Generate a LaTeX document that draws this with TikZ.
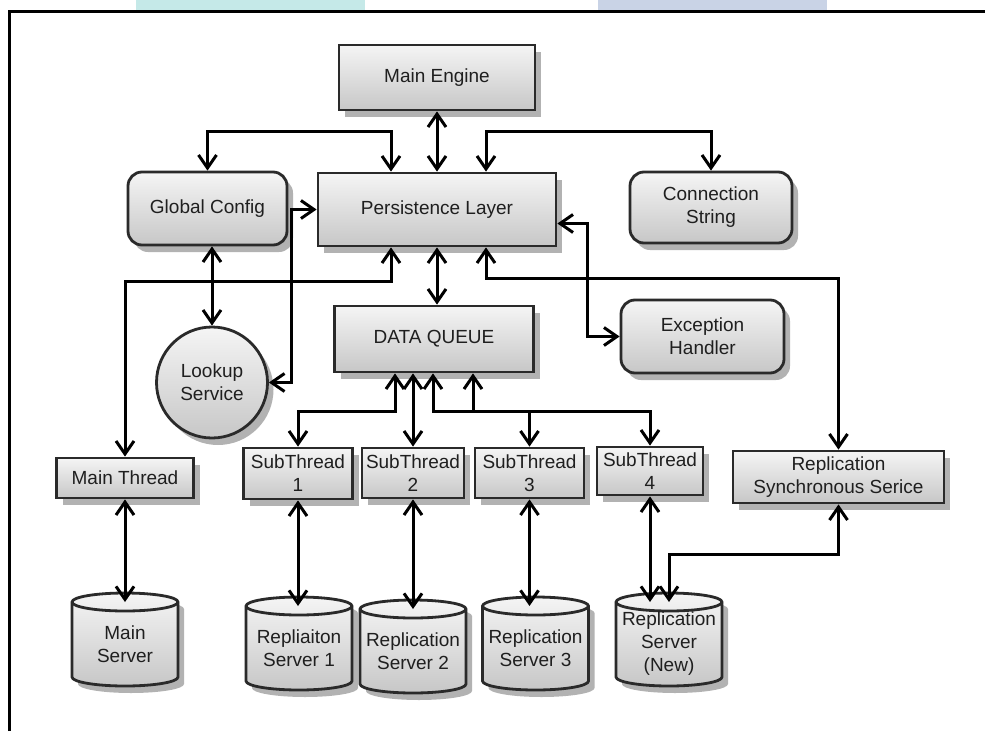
\documentclass[tikz,border=0pt]{standalone}
\usepackage{fontspec}
\setmainfont{Liberation Sans}
\usetikzlibrary{arrows.meta,shadows,calc}
\definecolor{tealbar}{HTML}{C5E9E8}
\definecolor{bluebar}{HTML}{C9D3E6}
\definecolor{edge}{HTML}{2A2A2A}

\tikzset{
  x=1pt, y=-1pt,
  every node/.style={font=\fontsize{19}{23}\selectfont, text=black!88},
  boxbase/.style={draw=edge, line width=2.8pt, top color=black!4, bottom color=black!22,
    drop shadow={shadow xshift=6pt, shadow yshift=-7pt, fill=black, opacity=0.3},
    inner sep=0pt, align=center},
  sqbox/.style={boxbase, rectangle},
  rbox/.style={boxbase, rectangle, rounded corners=14pt},
  link/.style={line width=3pt, black,
    {Straight Barb[length=13pt,width=18pt]}-{Straight Barb[length=13pt,width=18pt]}},
}

% database cylinder: name, centre x, top y, label
\newcommand\dbcyl[4]{%
  \path[fill=black, opacity=0.3]
    ({#2-53+6},{#3+9+7}) -- ({#2-53+6},{#3+84+7})
    arc[start angle=180,end angle=360,x radius=53pt,y radius=9pt]
    -- ({#2+53+6},{#3+9+7})
    arc[start angle=0,end angle=180,x radius=53pt,y radius=9pt] -- cycle;
  \path[draw=edge, line width=2.8pt, top color=black!4, bottom color=black!22]
    ({#2-53},{#3+9}) -- ({#2-53},{#3+84})
    arc[start angle=180,end angle=360,x radius=53pt,y radius=9pt]
    -- ({#2+53},{#3+9})
    arc[start angle=0,end angle=180,x radius=53pt,y radius=9pt] -- cycle;
  \draw[edge, line width=2.8pt] ({#2-53},{#3+9})
    arc[start angle=180,end angle=360,x radius=53pt,y radius=9pt];
  \coordinate (#1-top) at (#2,{#3+9});
  \node[inner sep=0pt, align=center] (#1) at (#2,{#3+51}) {#4};
}

\begin{document}
\begin{tikzpicture}
\useasboundingbox (0,0) rectangle (985,731);
\fill[white] (0,0) rectangle (985,731);

% header tabs and frame
\fill[tealbar] (136,0) rectangle (365,10);
\fill[bluebar] (598,0) rectangle (827,10);
\draw[line width=3pt, black] (9.5,731) -- (9.5,11) -- (985,11);

% top row
\node[sqbox, minimum width=196pt, minimum height=65pt] (me) at (437,77.5) {Main Engine};
\node[sqbox, minimum width=238pt, minimum height=73pt] (pl) at (437,209.5) {Persistence Layer};
\node[rbox, minimum width=159pt, minimum height=73pt] (gc) at (207.5,208.5) {Global Config};
\node[rbox, minimum width=162pt, minimum height=71pt] (cs) at (711,207.5) {Connection\\String};

% middle row
\node[sqbox, minimum width=199pt, minimum height=66pt] (dq) at (434,339) {DATA QUEUE};
\node[rbox, minimum width=163pt, minimum height=73pt] (eh) at (702.5,336.5) {Exception\\Handler};
\node[boxbase, circle, minimum size=111pt] (ls) at (212,382.5) {Lookup\\Service};

% threads
\node[sqbox, minimum width=137pt, minimum height=40pt] (mt) at (125,478) {Main Thread};
\node[sqbox, minimum width=109pt, minimum height=51pt] (sub1) at (298,473.5) {SubThread\\1};
\node[sqbox, minimum width=102pt, minimum height=50pt] (sub2) at (413,473) {SubThread\\2};
\node[sqbox, minimum width=109pt, minimum height=50pt] (sub3) at (529.5,473) {SubThread\\3};
\node[sqbox, minimum width=106pt, minimum height=48pt] (sub4) at (650,471) {SubThread\\4};
\node[sqbox, minimum width=211pt, minimum height=52pt] (rss) at (838.5,477) {Replication\\Synchronous Serice};

% servers
\dbcyl{ms}{125}{593}{Main\\Server}
\dbcyl{rs1}{299}{597}{Repliaiton\\Server 1}
\dbcyl{rs2}{413}{600}{Replication\\Server 2}
\dbcyl{rs3}{535.5}{597}{Replication\\Server 3}
\dbcyl{rsn}{669}{593}{Replication\\Server\\(New)}

% connectors around the persistence layer
\draw[link] (me.south) -- (pl.north);
\draw[link] (gc.north) |- ([xshift=-46pt,yshift=40pt]pl.north) -- ([xshift=-46pt]pl.north);
\draw[link] ([xshift=49pt]pl.north) -- ([xshift=49pt,yshift=40pt]pl.north) -| (cs.north);
\draw[link] (ls.east) -| ([xshift=-25pt]pl.west) -- (pl.west);
\draw[link] (ls.north |- gc.south) -- (ls.north);
\draw[link] ([xshift=-46pt]pl.south) -- ([xshift=-46pt,yshift=-34pt]pl.south) -| (mt.north);
\draw[link] (pl.south) -- (dq.north -| pl.south);
\draw[link] ([xshift=49pt]pl.south) -- ([xshift=49pt,yshift=-31pt]pl.south) -| (rss.north);
\draw[link] ([yshift=-14pt]pl.east) -- ([xshift=30pt,yshift=-14pt]pl.east) |- (eh.west);

% data queue to the sub threads
\draw[link] ([xshift=-39pt]dq.south) -- ([xshift=-39pt,yshift=-38pt]dq.south) -| (sub1.north);
\draw[link] (sub2.north |- dq.south) -- (sub2.north);
\draw[link] ([xshift=-1pt]dq.south) -- ([xshift=-1pt,yshift=-38pt]dq.south) -| (sub4.north);
\draw[link] ([xshift=39pt]dq.south) -- ([xshift=39pt,yshift=-38pt]dq.south) -| (sub3.north);

% threads to servers
\draw[link] (mt.south) -- (mt.south |- ms-top);
\draw[link] (sub1.south) -- (sub1.south |- rs1-top);
\draw[link] (sub2.south) -- (sub2.south |- rs2-top);
\draw[link] (sub3.south) -- (sub3.south |- rs3-top);
\draw[link] (sub4.south) -- (sub4.south |- rsn-top);
\draw[link] (rss.south) -- ([yshift=-50pt]rss.south) -| (rsn-top);
\end{tikzpicture}
\end{document}
